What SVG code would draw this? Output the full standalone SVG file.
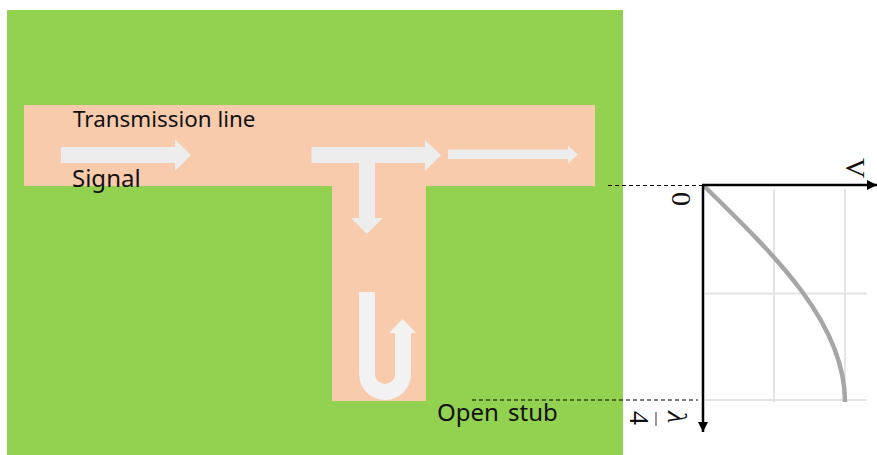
<svg xmlns="http://www.w3.org/2000/svg" width="877" height="455" viewBox="0 0 877 455">
<style>
.lbl{font-family:"Noto Sans","Open Sans",sans-serif;fill:#111}
.math{font-family:"Liberation Serif",serif;font-size:28px;fill:#111}
.flow{fill:#ededed}
.grid{stroke:#e4e4e4;stroke-width:2;fill:none}
.dash{stroke:#000;stroke-width:1;stroke-dasharray:4 3;fill:none}
.axis{stroke:#000;stroke-width:2.500;fill:none}
</style>
<defs>
<marker id="ah" markerUnits="userSpaceOnUse" markerWidth="11" markerHeight="11" refX="10" refY="5.500" orient="auto"><path d="M0 0.500L10 5.500L0 10.500Z" fill="#000"/></marker>
</defs>
<rect width="877" height="455" fill="#fff"/>
<g id="board"><rect x="7" y="10" width="616" height="445" fill="#92d250"/></g>
<g id="line"><path d="M24 105H595V186H426V401H332V186H24Z" fill="#f8cbad"/></g>
<g id="flows">
<path class="flow" d="M61 147H175V139.500L191 155L175 171V163H61Z"/>
<path class="flow" d="M311.500 147H425V140L441 155L425 171V163H375V218H383L367 234L351 218H359V163H311.500Z"/>
<path class="flow" d="M448 149.500H568V145.500L578 154.500L568 163.500V159H448Z"/>
<path d="M359 292H375V374A10 10 0 0 0 395 374V333H389L402.500 319L416 333H411V374A26 26 0 0 1 359 374Z" fill="#f2f2f2"/>
</g>
<g id="labels">
<text class="lbl" x="73" y="127" font-size="22.400">Transmission line</text>
<text class="lbl" x="72" y="187" font-size="24">Signal</text>
<text class="lbl" x="437" y="421" font-size="24" word-spacing="3">Open stub</text>
</g>
<g id="chart">
<path class="grid" d="M774 189V402M845 189V402M705 293.500H867M705 400H867"/>
<path d="M704 186C777.800 258 845 324 845 402" fill="none" stroke="#a6a6a6" stroke-width="4.500"/>
</g>
<g id="connectors">
<path class="dash" d="M608 185.500H703"/>
<path class="dash" d="M472 400H698"/>
<path class="axis" d="M703 185V432" marker-end="url(#ah)"/>
<path class="axis" d="M702 185H877" marker-end="url(#ah)"/>
</g>
<g id="axis-labels">
<text class="math" transform="translate(846 158) rotate(90)">V</text>
<text class="math" transform="translate(672 192) rotate(90)">0</text>
<text class="math" font-size="31" font-style="italic" transform="translate(668 411) rotate(90)">λ</text>
<path d="M656 412V426" stroke="#777" stroke-width="1.500"/>
<text class="math" transform="translate(630 411) rotate(90)">4</text>
</g>
</svg>
